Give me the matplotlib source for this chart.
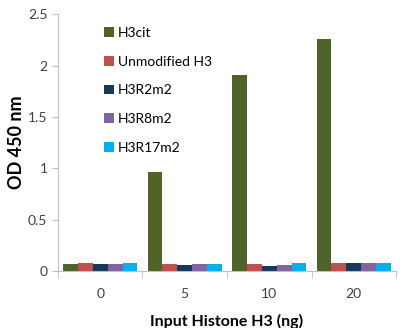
import matplotlib.pyplot as plt
import numpy as np

# data
categories = ["0", "5", "10", "20"]
series_names = ["H3cit", "Unmodified H3", "H3R2m2", "H3R8m2", "H3R17m2"]
h3cit = [0.068, 0.962, 1.908, 2.263]
unmod = [0.078, 0.065, 0.065, 0.080]
r2m2 = [0.065, 0.055, 0.052, 0.080]
r8m2 = [0.065, 0.065, 0.058, 0.080]
r17m2 = [0.075, 0.072, 0.078, 0.080]
colors = ["#4F6228", "#C0504D", "#17375E", "#8064A2", "#00B0F0"]

plt.rcParams['font.family'] = ['Lato', 'DejaVu Sans']

fig = plt.figure(figsize=(4.05, 3.28), dpi=100)
ax = fig.add_axes([0.143, 0.174, 0.835, 0.782])

series = [h3cit, unmod, r2m2, r8m2, r17m2]
x = np.arange(len(categories))
w = 0.88 / len(series)
for i, (vals, name, c) in enumerate(zip(series, series_names, colors)):
    ax.bar(x - 0.44 + w * (i + 0.5), vals, w, color=c, label=name)

ax.set_xlim(-0.5, len(categories) - 0.5)
ax.set_ylim(0, 2.5)
ax.set_yticks([0, 0.5, 1, 1.5, 2, 2.5])
ax.set_yticklabels(["0", "0.5", "1", "1.5", "2", "2.5"])
ax.set_xticks(x)
ax.set_xticklabels(categories)
ax.set_xticks(np.arange(-0.5, len(categories)), minor=True)
ax.tick_params(axis='x', which='major', length=0, pad=12, labelsize=10, colors='#404040')
ax.tick_params(axis='x', which='minor', length=5, color='#BFBFBF')
ax.tick_params(axis='y', length=4, color='#BFBFBF', labelsize=10, labelcolor='#404040')

for s in ['top', 'right']:
    ax.spines[s].set_visible(False)
for s in ['left', 'bottom']:
    ax.spines[s].set_color('#BFBFBF')

ax.set_xlabel("Input Histone H3 (ng)", fontsize=11.5, fontweight='bold', labelpad=10)
ax.set_ylabel("OD 450 nm", fontsize=13, fontweight='bold', labelpad=2)

ax.legend(loc='upper left', bbox_to_anchor=(0.1, 1.0), frameon=False,
          handlelength=0.7, handleheight=0.7, handletextpad=0.3,
          labelspacing=1.2, fontsize=10)

fig.savefig("out.png", dpi=100)
